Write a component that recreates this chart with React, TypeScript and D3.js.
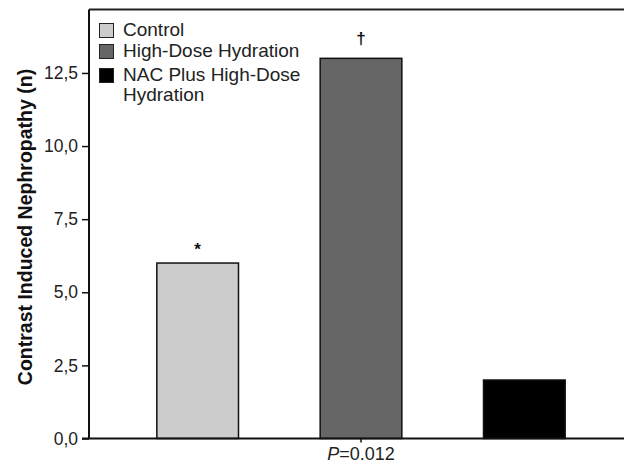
import React, { useEffect, useRef } from 'react';
import * as d3 from 'd3';

const svgWidth = 624;
const svgHeight = 466;
const margin = { left: 89, right: 0, top: 9.5, bottom: 28 };

const groups = ['Control', 'High-Dose Hydration', 'NAC Plus High-Dose Hydration'];
const values = [6, 13, 2];
const marks = ['*', '\u2020', ''];
const colors = ['#cccccc', '#666666', '#000000'];
const yTicks = [0, 2.5, 5, 7.5, 10, 12.5];
const legendLines = [['Control'], ['High-Dose Hydration'], ['NAC Plus High-Dose', 'Hydration']];

const font = 'Liberation Sans, Arial, Helvetica, sans-serif';

const App = () => {
  const ref = useRef<SVGSVGElement>(null);

  useEffect(() => {
    const svg = d3.select(ref.current);
    svg.selectAll('*').remove();

    const x = d3.scaleBand<string>().domain(groups).range([116, 606]).paddingInner(0.5).paddingOuter(0.25);
    const y = d3.scaleLinear().domain([0, 14.67]).range([438.5, margin.top]);

    // top frame line
    svg.append('line')
      .attr('x1', margin.left).attr('x2', svgWidth)
      .attr('y1', margin.top).attr('y2', margin.top)
      .attr('stroke', '#222').attr('stroke-width', 2);

    const yAxis = svg.append('g')
      .attr('transform', `translate(${margin.left},0)`)
      .call(d3.axisLeft(y).tickValues(yTicks).tickSize(7).tickPadding(4)
        .tickFormat(d => d3.format('.1f')(d as number).replace('.', ',')));
    yAxis.select('.domain').remove();
    yAxis.selectAll('.tick line').attr('stroke', '#111').attr('stroke-width', 1.5);
    yAxis.selectAll('.tick text').attr('font-family', font).attr('font-size', 17.5).attr('fill', '#222');

    svg.append('line')
      .attr('x1', margin.left).attr('x2', margin.left)
      .attr('y1', margin.top).attr('y2', y(0))
      .attr('stroke', '#111').attr('stroke-width', 2);

    // bars
    svg.selectAll('.bar')
      .data(groups)
      .enter()
      .append('rect')
      .attr('class', 'bar')
      .attr('x', d => x(d)!)
      .attr('y', (d, i) => y(values[i]))
      .attr('width', x.bandwidth())
      .attr('height', (d, i) => y(0) - y(values[i]))
      .attr('fill', (d, i) => colors[i])
      .attr('stroke', '#111')
      .attr('stroke-width', 1.5);

    svg.selectAll('.mark')
      .data(groups)
      .enter()
      .append('text')
      .attr('x', d => x(d)! + x.bandwidth() / 2)
      .attr('y', (d, i) => y(values[i]) - (i === 1 ? 14 : 8))
      .attr('text-anchor', 'middle')
      .attr('font-family', font)
      .attr('font-weight', 'bold')
      .attr('font-size', 17)
      .attr('fill', '#111')
      .text((d, i) => marks[i]);

    // x axis
    svg.append('line')
      .attr('x1', margin.left - 7).attr('x2', svgWidth)
      .attr('y1', y(0)).attr('y2', y(0))
      .attr('stroke', '#111').attr('stroke-width', 2);
    const mid = x(groups[1])! + x.bandwidth() / 2;
    svg.append('line')
      .attr('x1', mid).attr('x2', mid)
      .attr('y1', y(0)).attr('y2', y(0) + 4)
      .attr('stroke', '#111').attr('stroke-width', 1.5);

    const pLabel = svg.append('text')
      .attr('x', mid).attr('y', 460)
      .attr('text-anchor', 'middle')
      .attr('font-family', font)
      .attr('font-size', 18)
      .attr('fill', '#222');
    pLabel.append('tspan').attr('font-style', 'italic').text('P');
    pLabel.append('tspan').text('=0.012');

    // y title
    svg.append('text')
      .attr('transform', 'translate(32,227) rotate(-90)')
      .attr('text-anchor', 'middle')
      .attr('font-family', font)
      .attr('font-weight', 'bold')
      .attr('font-size', 19.5)
      .attr('fill', '#111')
      .text('Contrast Induced Nephropathy (n)');

    // legend
    const rowY = [22, 43, 67];
    const legend = svg.append('g').attr('transform', 'translate(99,0)');
    legendLines.forEach((lines, i) => {
      const row = legend.append('g').attr('transform', `translate(0,${rowY[i]})`);
      row.append('rect')
        .attr('x', 0.5).attr('y', 1.5)
        .attr('width', 14).attr('height', 14)
        .attr('fill', colors[i])
        .attr('stroke', '#222').attr('stroke-width', 1);
      lines.forEach((t, j) => {
        row.append('text')
          .attr('x', 24).attr('y', 13.5 + j * 20)
          .attr('font-family', font)
          .attr('font-size', 19)
          .attr('fill', '#222')
          .text(t);
      });
    });
  }, []);

  return (
    <svg ref={ref} width={svgWidth} height={svgHeight}
      style={{ position: 'absolute', left: 0, top: 0, background: '#fff' }} />
  );
};

export default App;
